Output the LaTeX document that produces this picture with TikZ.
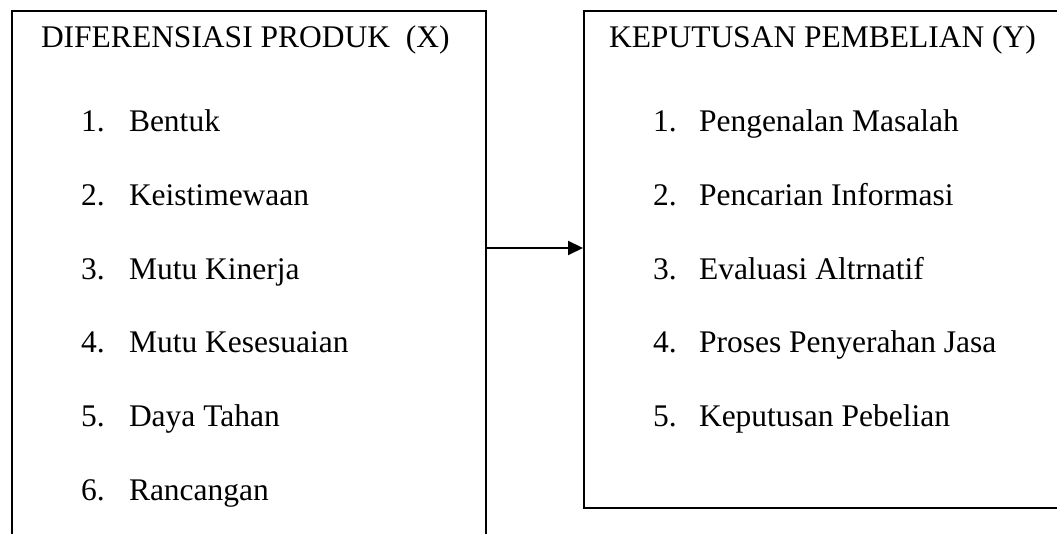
\documentclass[tikz,border=0pt]{standalone}
\usepackage{fontspec}
\setmainfont{Liberation Serif}
\usepackage{tikz}
\usetikzlibrary{positioning,arrows.meta}

\begin{document}
\begin{tikzpicture}[x=1pt,y=-1pt,line width=2pt,
  every node/.style={font=\fontsize{31.5}{36}\selectfont,inner sep=0pt,anchor=base west},
  kotak/.style={draw,minimum width=#1,anchor=north west},
  panah/.style={-{Triangle[length=15pt,width=14pt]}}]
  % page frame, boxes run past it
  \clip (0,0) rectangle (1057,534);
  \node[kotak=474pt,minimum height=560pt] (xbox) at (11,10) {};
  \node[kotak=500pt,minimum height=497pt] (ybox) at (583,10) {};
  \node (xjudul) at (40,48) {DIFERENSIASI PRODUK\ \ (X)};
  \node (yjudul) at (608,48) {KEPUTUSAN PEMBELIAN (Y)};
  \foreach \n/\t in {1/Bentuk,2/Keistimewaan,3/Mutu Kinerja,4/Mutu Kesesuaian,5/Daya Tahan,6/Rancangan} {
     \node (xno\n) at (80,{132+73.6*(\n-1)}) {\n.};
     \node (x\n) at (128,{132+73.6*(\n-1)}) {\t};
  }
  \foreach \n/\t in {1/Pengenalan Masalah,2/Pencarian Informasi,3/Evaluasi Altrnatif,4/Proses Penyerahan Jasa,5/Keputusan Pebelian} {
     \node (yno\n) at (652,{132+73.6*(\n-1)}) {\n.};
     \node (y\n) at (698,{132+73.6*(\n-1)}) {\t};
  }
  \draw[panah] (xbox.east |- 0,248) -- (ybox.west |- 0,248);
\end{tikzpicture}
\end{document}
